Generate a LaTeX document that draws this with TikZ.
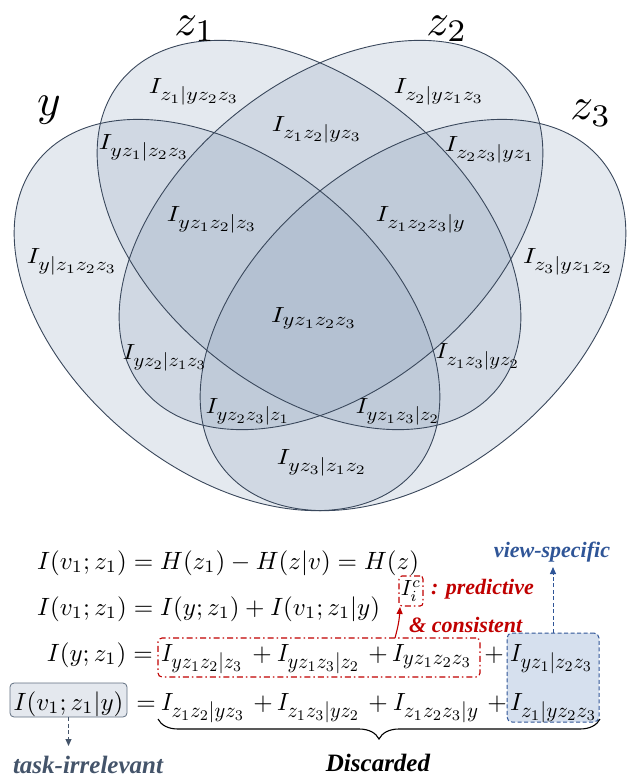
\documentclass[tikz,border=0pt]{standalone}
\usepackage[no-math]{fontspec}
\newfontfamily\annfont{Liberation Serif}
\usetikzlibrary{decorations.pathreplacing,arrows.meta}
\definecolor{vennfill}{RGB}{140,160,186}
\definecolor{vennline}{RGB}{58,72,92}
\definecolor{redc}{RGB}{192,0,0}
\definecolor{bluec}{RGB}{47,85,151}
\definecolor{slatec}{RGB}{68,84,106}
\definecolor{lightbluefill}{RGB}{214,224,238}
\definecolor{grayfill}{RGB}{228,232,238}
\newcommand{\sub}[1]{\scalebox{0.85}{$#1$}}
\newcommand{\vlab}[2][90pt]{\resizebox{#1}{15pt}{$#2$}}
\newcommand{\eqm}[1]{\scalebox{2.5}{$#1$}}
\newcommand{\eqt}[2]{\resizebox{#1}{17pt}{$#2$}}
\newcommand{\setlab}[1]{\scalebox{4.5}{$#1$}}
\tikzset{
  vfill/.style={fill=vennfill, fill opacity=0.23},
  vline/.style={draw=vennline, line width=0.9pt},
  vl/.style={inner sep=0pt},
  eqnode/.style={inner sep=0pt},
  ann/.style={inner sep=0pt, font=\annfont\bfseries\itshape\fontsize{22}{26}\selectfont},
  annbig/.style={inner sep=0pt, font=\annfont\bfseries\itshape\fontsize{25}{30}\selectfont},
  graybox/.style={draw=slatec!85, fill=grayfill, rounded corners=4pt, line width=0.8pt, inner sep=0pt},
  redboxstyle/.style={draw=redc, line width=1.1pt, rounded corners=4pt, dash pattern=on 6pt off 3pt on 1.5pt off 3pt, inner sep=0pt},
  blueboxstyle/.style={draw=bluec, fill=lightbluefill, line width=1pt, rounded corners=5pt, dash pattern=on 4pt off 2.5pt, inner sep=0pt},
  bluearrow/.style={draw=bluec, line width=1pt, dash pattern=on 4pt off 2.5pt, -{Triangle[length=7pt,width=6pt]}},
  slatearrow/.style={draw=slatec, line width=1pt, dash pattern=on 4pt off 2.5pt, -{Triangle[length=7pt,width=6pt]}},
  redarrow/.style={draw=redc, line width=1.1pt, -{Triangle[length=7pt,width=6pt]}},
}
\begin{document}
\begin{tikzpicture}[x=1pt,y=-1pt]
\useasboundingbox (0,0) rectangle (631,779);
% Venn fills
\fill[vfill, shift={(227,315)}, rotate=-39.3] (0,0) ellipse [x radius=244pt, y radius=155pt];
\fill[vfill, shift={(413,315)}, rotate=39.3] (0,0) ellipse [x radius=244pt, y radius=155pt];
\fill[vfill, shift={(309,235)}, rotate=-39.3] (0,0) ellipse [x radius=243pt, y radius=154pt];
\fill[vfill, shift={(331,235)}, rotate=39.3] (0,0) ellipse [x radius=243pt, y radius=154pt];
% Venn outlines
\draw[vline, shift={(227,315)}, rotate=-39.3] (0,0) ellipse [x radius=244pt, y radius=155pt];
\draw[vline, shift={(413,315)}, rotate=39.3] (0,0) ellipse [x radius=244pt, y radius=155pt];
\draw[vline, shift={(309,235)}, rotate=-39.3] (0,0) ellipse [x radius=243pt, y radius=154pt];
\draw[vline, shift={(331,235)}, rotate=39.3] (0,0) ellipse [x radius=243pt, y radius=154pt];
% set labels
\node[vl, anchor=base] (sz1) at (195,35) {\setlab{z_1}};
\node[vl, anchor=base] (sz2) at (447,35) {\setlab{z_2}};
\node[vl] (sy) at (49,110) {\setlab{y}};
\node[vl] (sz3) at (591,113) {\setlab{z_3}};
% region labels
\node[vl] (r1) at (194,92) {\vlab{I_{\sub{z_1|yz_2z_3}}}};
\node[vl] (r2) at (439,92) {\vlab{I_{\sub{z_2|yz_1z_3}}}};
\node[vl] (r3) at (144,148) {\vlab{I_{\sub{yz_1|z_2z_3}}}};
\node[vl] (r4) at (317,130) {\vlab{I_{\sub{z_1z_2|yz_3}}}};
\node[vl] (r5) at (490,150) {\vlab{I_{\sub{z_2z_3|yz_1}}}};
\node[vl] (r6) at (212,220) {\vlab{I_{\sub{yz_1z_2|z_3}}}};
\node[vl] (r7) at (421,220) {\vlab{I_{\sub{z_1z_2z_3|y}}}};
\node[vl] (r8) at (72,262) {\vlab{I_{\sub{y|z_1z_2z_3}}}};
\node[vl] (r9) at (568,262) {\vlab{I_{\sub{z_3|yz_1z_2}}}};
\node[vl] (r10) at (314,318) {\vlab[86pt]{I_{\sub{yz_1z_2z_3}}}};
\node[vl] (r11) at (165,358) {\vlab[84pt]{I_{\sub{yz_2|z_1z_3}}}};
\node[vl] (r12) at (478,357) {\vlab[84pt]{I_{\sub{z_1z_3|yz_2}}}};
\node[vl] (r13) at (248,412) {\vlab[84pt]{I_{\sub{yz_2z_3|z_1}}}};
\node[vl] (r14) at (398,412) {\vlab[84pt]{I_{\sub{yz_1z_3|z_2}}}};
\node[vl] (r15) at (322,463) {\vlab{I_{\sub{yz_3|z_1z_2}}}};
% boxes
\node[graybox, minimum width=117pt, minimum height=34pt] (gbox) at (68.5,700) {};
\node[redboxstyle, minimum width=322pt, minimum height=39pt] (rbox) at (319,657.5) {};
\node[blueboxstyle, minimum width=92pt, minimum height=89pt] (bbox) at (553,677.5) {};
\node[redboxstyle, rounded corners=3pt, minimum width=24pt, minimum height=30pt] (icbox) at (411,591) {};
% equations
\node[eqnode, anchor=base west] (e1) at (37,569) {\eqm{I(v_1;z_1)=H(z_1)-H(z|v)=H(z)}};
\node[eqnode, anchor=base west] (e2) at (37,615) {\eqm{I(v_1;z_1)=I(y;z_1)+I(v_1;z_1|y)}};
\node[eqnode, anchor=base east] (e3l) at (153,661) {\eqm{I(y;z_1)=}};
\node[eqnode, anchor=base west] (t31) at (161,661) {\eqt{82pt}{I_{\sub{yz_1z_2|z_3}}}};
\node[eqnode, anchor=base] (p31) at (262,661) {\eqm{+}};
\node[eqnode, anchor=base west] (t32) at (277,661) {\eqt{83pt}{I_{\sub{yz_1z_3|z_2}}}};
\node[eqnode, anchor=base] (p32) at (378,661) {\eqm{+}};
\node[eqnode, anchor=base west] (t33) at (392,661) {\eqt{80pt}{I_{\sub{yz_1z_2z_3}}}};
\node[eqnode, anchor=base] (p33) at (494,661) {\eqm{+}};
\node[eqnode, anchor=base west] (t34) at (510,661) {\eqt{83pt}{I_{\sub{yz_1|z_2z_3}}}};
\node[eqnode, anchor=base] (e4l) at (68.5,710) {\eqm{I(v_1;z_1|y)}};
\node[eqnode, anchor=base] (e4eq) at (146,710) {\eqm{=}};
\node[eqnode, anchor=base west] (t41) at (161,710) {\eqt{84pt}{I_{\sub{z_1z_2|yz_3}}}};
\node[eqnode, anchor=base] (p41) at (263,710) {\eqm{+}};
\node[eqnode, anchor=base west] (t42) at (277,710) {\eqt{83pt}{I_{\sub{z_1z_3|yz_2}}}};
\node[eqnode, anchor=base] (p42) at (378,710) {\eqm{+}};
\node[eqnode, anchor=base west] (t43) at (393,710) {\eqt{86pt}{I_{\sub{z_1z_2z_3|y}}}};
\node[eqnode, anchor=base] (p43) at (497,710) {\eqm{+}};
\node[eqnode, anchor=base west] (t44) at (510,710) {\eqt{87pt}{I_{\sub{z_1|yz_2z_3}}}};
% small I_i^c
\node[eqnode] (ic) at (411,591) {\scalebox{2.2}{$I_i^c$}};
% annotations
\node[ann, anchor=west, text=redc] (pred) at (431,589) {: predictive};
\node[ann, anchor=west, text=redc] (cons) at (409,625) {\& consistent};
\node[ann, text=bluec] (vs) at (552,552) {view-specific};
\node[annbig, text=slatec] (ti) at (88,765) {task-irrelevant};
\node[annbig, text=black] (disc) at (378,763) {Discarded};
% connectors
\coordinate (vsTip) at (553,567);
\draw[bluearrow] (bbox.north) -- (vsTip);
\coordinate (rTop) at (395,638);
\coordinate (rTip) at (400,607);
\draw[redarrow] (rTop) to[bend right=6] (rTip);
\coordinate (tiTip) at (68.5,746);
\draw[slatearrow] (gbox.south) -- (tiTip);
\coordinate (brL) at (158,719);
\coordinate (brR) at (600,719);
\draw[line width=1.1pt, decorate, decoration={brace, mirror, amplitude=20pt}] (brL) -- (brR);
\end{tikzpicture}
\end{document}
